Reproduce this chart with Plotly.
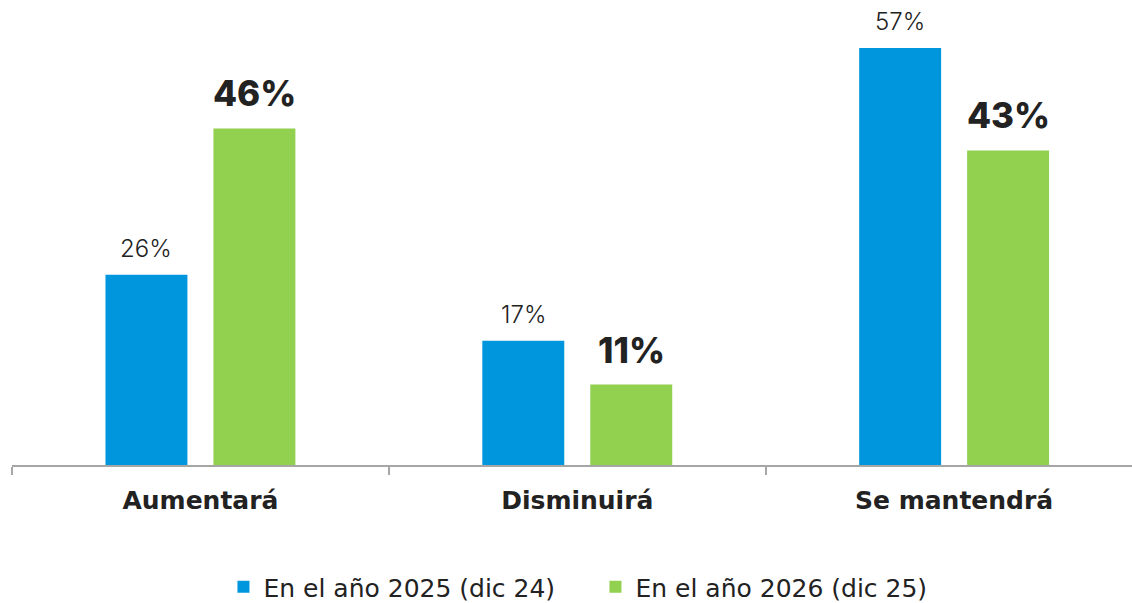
import plotly.graph_objects as go

categories = ["Aumentará", "Disminuirá", "Se mantendrá"]
series_names = ["En el año 2025 (dic 24)", "En el año 2026 (dic 25)"]
values_2025 = [26, 17, 57]
values_2026 = [46, 11, 43]

BLUE = "#0096DD"
GREEN = "#92D050"
TXT = "#222222"
FONT = "Inter"
WIDE = "DejaVu Sans"

fig = go.Figure()
fig.add_trace(go.Bar(x=categories, y=values_2025, name=series_names[0],
                     marker=dict(color=BLUE, line=dict(width=0))))
fig.add_trace(go.Bar(x=categories, y=values_2026, name=series_names[1],
                     marker=dict(color=GREEN, line=dict(width=0))))

# value labels
for cat, v in zip(categories, values_2025):
    fig.add_annotation(x=cat, y=v, text=f"{v}%", showarrow=False, xshift=-54,
                       yanchor="bottom", yshift=10,
                       font=dict(family=FONT, size=24, color=TXT, weight=300))
for cat, v in zip(categories, values_2026):
    fig.add_annotation(x=cat, y=v, text=f"{v}%", showarrow=False, xshift=54,
                       yanchor="bottom", yshift=12,
                       font=dict(family=FONT, size=35, color=TXT, weight=800))

fig.update_layout(
    width=1132, height=603,
    margin=dict(l=11.5, r=0, t=0, b=138, autoexpand=False),
    paper_bgcolor="white", plot_bgcolor="white",
    barmode="group", bargap=0.427, bargroupgap=0.241,
    font=dict(family=FONT, color=TXT),
    showlegend=True,
    legend=dict(orientation="h", x=0.1888, xanchor="left", y=-0.2624, yanchor="middle",
                font=dict(family=WIDE, size=25, color=TXT),
                entrywidth=327, entrywidthmode="pixels",
                traceorder="normal"),
    xaxis=dict(type="category", range=[-0.5, 2.472], showline=True,
               linecolor="#A6A6A6", linewidth=2, ticks="outside", tickson="boundaries",
               tickcolor="#A6A6A6", ticklen=8, tickwidth=2, ticklabelstandoff=12,
               tickfont=dict(family=WIDE, size=25, color=TXT, weight=700),
               showgrid=False, zeroline=False),
    yaxis=dict(range=[0, 63.56], visible=False, showgrid=False, zeroline=False),
)

fig.write_html(
    "out.html",
    config={"displayModeBar": False},
    post_script="document.body.style.margin='0';document.body.style.overflow='hidden';",
)
